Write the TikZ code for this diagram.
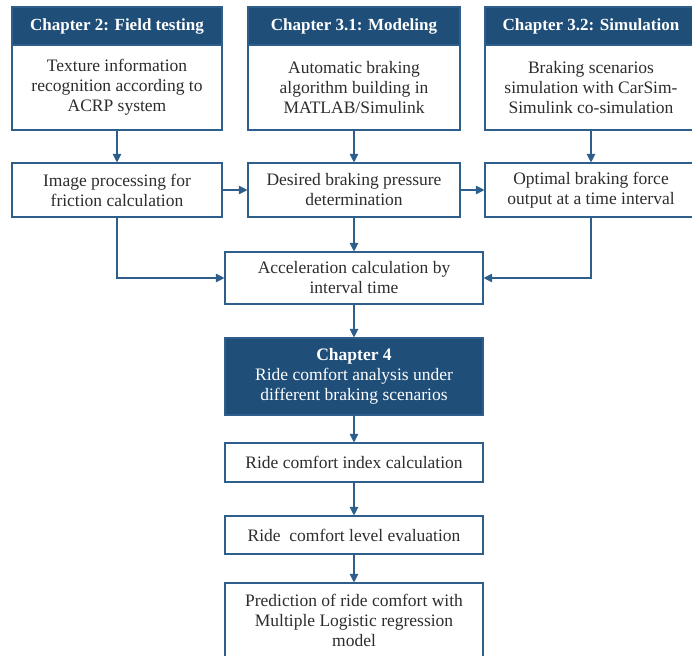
\documentclass[tikz,border=0pt]{standalone}
\usepackage{fontspec}
\setmainfont{Liberation Serif}
\usetikzlibrary{arrows.meta}
\definecolor{hdr}{RGB}{31,78,121}
\definecolor{edge}{RGB}{46,94,140}
\definecolor{txt}{RGB}{45,45,45}
\begin{document}
\begin{tikzpicture}[x=1pt,y=-1pt,
  font=\fontsize{17.5}{20}\selectfont,
  box/.style={draw=edge, line width=1.1pt, fill=white, text=txt, align=center, inner sep=0pt},
  head/.style={draw=edge, line width=1.1pt, fill=hdr, text=white, align=center, inner sep=0pt, font=\fontsize{17}{20}\selectfont\bfseries},
  conn/.style={draw=edge, line width=1.1pt, -{Triangle[length=8.5pt,width=8.5pt]}}]
\useasboundingbox (0,0) rectangle (692,655);
\clip (0,0) rectangle (692,655);
% top headers
\node[head, minimum width=210pt, minimum height=38pt] (h1) at (117,26) {Chapter 2: Field testing};
\node[head, minimum width=212pt, minimum height=38pt] (h2) at (354,26) {Chapter 3.1: Modeling};
\node[head, minimum width=212pt, minimum height=38pt] (h3) at (591,26) {Chapter 3.2: Simulation};
% top bodies
\node[box, minimum width=210pt, minimum height=85pt] (b1) at (117,87.5) {Texture information\\recognition according to\\ACRP system};
\node[box, minimum width=212pt, minimum height=85pt] (b2) at (354,87.5) {Automatic braking\\algorithm building in\\MATLAB/Simulink};
\node[box, minimum width=212pt, minimum height=85pt] (b3) at (591,87.5) {Braking scenarios\\simulation with CarSim-\\Simulink co-simulation};
% second row
\node[box, minimum width=210pt, minimum height=54pt] (ra) at (117,190) {Image processing for\\friction calculation};
\node[box, minimum width=212pt, minimum height=54pt] (rb) at (354,190) {Desired braking pressure\\determination};
\node[box, minimum width=212pt, minimum height=54pt] (rc) at (591,190) {Optimal braking force\\output at a time interval};
% centre column
\node[box, minimum width=258pt, minimum height=52pt] (acc) at (354,278) {Acceleration calculation by\\interval time};
\node[box, fill=hdr, text=white, minimum width=258pt, minimum height=77pt] (ch4) at (354,376.5) {\textbf{Chapter 4}\\Ride comfort analysis under\\different braking scenarios};
\node[box, minimum width=258pt, minimum height=39pt] (idx) at (354,462.5) {Ride comfort index calculation};
\node[box, minimum width=258pt, minimum height=38pt] (lvl) at (354,535) {Ride\ \ comfort level evaluation};
\node[box, minimum width=258pt, minimum height=74pt] (pred) at (354,620) {Prediction of ride comfort with\\Multiple Logistic regression\\model};
% connectors
\draw[conn] (b1) -- (ra);
\draw[conn] (b2) -- (rb);
\draw[conn] (b3) -- (rc);
\draw[conn] (ra) -- (rb);
\draw[conn] (rb) -- (rc);
\draw[conn] (ra.south) |- (acc.west);
\draw[conn] (rb) -- (acc);
\draw[conn] (rc.south) |- (acc.east);
\draw[conn] (acc) -- (ch4);
\draw[conn] (ch4) -- (idx);
\draw[conn] (idx) -- (lvl);
\draw[conn] (lvl) -- (pred);
\end{tikzpicture}
\end{document}
